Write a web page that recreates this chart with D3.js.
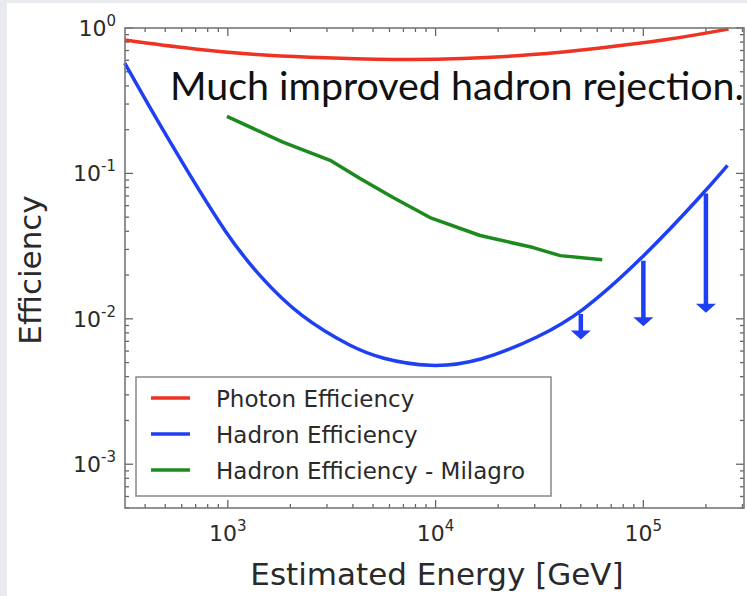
<!DOCTYPE html>
<html>
<head>
<meta charset="utf-8">
<script src="https://cdn.jsdelivr.net/npm/d3@7"></script>
<style>
  body { margin: 0; background: #fff; }
  svg { display: block; }
</style>
</head>
<body>
<svg id="chart" width="747" height="596"></svg>
<script>
// energies in GeV, efficiencies
var photonE   = [319, 733, 1426, 2223, 6745, 13130, 29500, 62000, 130600, 257000];
var photonEff = [0.826, 0.705, 0.651, 0.631, 0.601, 0.611, 0.651, 0.728, 0.826, 0.984];

var hadronE   = [319, 436, 634, 989, 1426, 2223, 4000, 5405, 9400, 16370, 31900, 49700, 96800, 194600, 254000];
var hadronEff = [0.574, 0.260, 0.1055, 0.0375, 0.0194, 0.0103, 0.0063, 0.00535, 0.0046, 0.00505, 0.00755, 0.0108, 0.0251, 0.0728, 0.1135];

var milagroE   = [990, 1841, 3107, 4330, 6240, 9400, 16370, 29500, 39800, 63400];
var milagroEff = [0.247, 0.164, 0.123, 0.0924, 0.0683, 0.0497, 0.0374, 0.0309, 0.0272, 0.0255];

// upper limit arrows
var limitE   = [5e4, 1e5, 2e5];
var limitTop = [0.0108, 0.0251, 0.0728];
var limitTip = [0.0072, 0.0089, 0.0110];

var xMajor = [1e3, 1e4, 1e5];
var xExp   = ["3", "4", "5"];
var yMajor = [1e-3, 1e-2, 1e-1, 1];
var yExp   = ["-3", "-2", "-1", "0"];

var legendLabels = ["Photon Efficiency", "Hadron Efficiency", "Hadron Efficiency - Milagro"];
var colours = ["#ee3322", "#1f3ff2", "#1c8a1c"];

var svg = d3.select("#chart");

// slide background
svg.append("rect").attr("width", 747).attr("height", 596).attr("fill", "#e9ebef");
svg.append("rect").attr("x", 7).attr("y", 3).attr("width", 740).attr("height", 593).attr("fill", "#fff");

// plot box (note: "top" is a reserved window prop, so use pTop)
var pLeft = 125, pRight = 744, pTop = 28, pBottom = 508;

var x = d3.scaleLog().domain([320, 3.05e5]).range([pLeft, pRight]);
var y = d3.scaleLog().domain([5e-4, 1]).range([pBottom, pTop]);

var line = d3.line()
  .x(function (d) { return x(d[0]); })
  .y(function (d) { return y(d[1]); });

var plot = svg.append("g");

// ticks, all four sides, pointing in
var isMajor = function (v) { return Math.abs(Math.log10(v) - Math.round(Math.log10(v))) < 1e-9; };
var tickCol = "#666";

x.ticks().forEach(function (v) {
  var len = isMajor(v) ? 8 : 4;
  var px = x(v);
  plot.append("line").attr("x1", px).attr("x2", px).attr("y1", pBottom).attr("y2", pBottom - len)
    .attr("stroke", tickCol).attr("stroke-width", 1.3);
  plot.append("line").attr("x1", px).attr("x2", px).attr("y1", pTop).attr("y2", pTop + len)
    .attr("stroke", tickCol).attr("stroke-width", 1.3);
});
y.ticks().forEach(function (v) {
  var len = isMajor(v) ? 8 : 4;
  var py = y(v);
  plot.append("line").attr("x1", pLeft).attr("x2", pLeft + len).attr("y1", py).attr("y2", py)
    .attr("stroke", tickCol).attr("stroke-width", 1.3);
  plot.append("line").attr("x1", pRight).attr("x2", pRight - len).attr("y1", py).attr("y2", py)
    .attr("stroke", tickCol).attr("stroke-width", 1.3);
});

// curves
var series = [
  d3.zip(photonE, photonEff),
  d3.zip(hadronE, hadronEff),
  d3.zip(milagroE, milagroEff)
];
plot.append("path").attr("d", line.curve(d3.curveBasis)(series[0]))
  .attr("fill", "none").attr("stroke", colours[0]).attr("stroke-width", 3.5);
plot.append("path").attr("d", line.curve(d3.curveBasis)(series[1]))
  .attr("fill", "none").attr("stroke", colours[1]).attr("stroke-width", 3.5);
plot.append("path").attr("d", line.curve(d3.curveLinear)(series[2]))
  .attr("fill", "none").attr("stroke", colours[2]).attr("stroke-width", 3.5)
  .attr("stroke-linejoin", "round");

// arrows
limitE.forEach(function (e, i) {
  var px = x(e), y0 = y(limitTop[i]), y1 = y(limitTip[i]);
  plot.append("line").attr("x1", px).attr("x2", px).attr("y1", y0).attr("y2", y1 - 6)
    .attr("stroke", colours[1]).attr("stroke-width", 4.5);
  plot.append("path")
    .attr("d", "M" + (px - 10) + "," + (y1 - 9) + "L" + (px + 10) + "," + (y1 - 9) + "L" + px + "," + y1 + "Z")
    .attr("fill", colours[1]);
});

// frame
plot.append("rect").attr("x", pLeft).attr("y", pTop).attr("width", pRight - pLeft).attr("height", pBottom - pTop)
  .attr("fill", "none").attr("stroke", "#777").attr("stroke-width", 1.6);

// tick labels
var labFont = "DejaVu Sans";
xMajor.forEach(function (v, i) {
  var t = svg.append("text").attr("x", x(v)).attr("y", 541)
    .attr("text-anchor", "middle").attr("font-family", labFont).attr("font-size", 22).attr("fill", "#2a2a2a");
  t.append("tspan").text("10");
  t.append("tspan").attr("dy", -10).attr("font-size", 15).text(xExp[i]);
});
yMajor.forEach(function (v, i) {
  var t = svg.append("text").attr("x", 116).attr("y", y(v) + 8)
    .attr("text-anchor", "end").attr("font-family", labFont).attr("font-size", 22).attr("fill", "#2a2a2a");
  t.append("tspan").text("10");
  t.append("tspan").attr("dy", -10).attr("font-size", 15).text(yExp[i]);
});

// axis titles
svg.append("text").attr("x", 437).attr("y", 585).attr("text-anchor", "middle")
  .attr("font-family", labFont).attr("font-size", 31).attr("fill", "#2a2a2a")
  .text("Estimated Energy [GeV]");
svg.append("text").attr("transform", "translate(41,270) rotate(-90)").attr("text-anchor", "middle")
  .attr("font-family", labFont).attr("font-size", 31).attr("fill", "#2a2a2a")
  .text("Efficiency");

// legend
var lg = svg.append("g");
lg.append("rect").attr("x", 136).attr("y", 377).attr("width", 415).attr("height", 119)
  .attr("fill", "#fff").attr("stroke", "#888").attr("stroke-width", 1.5);
legendLabels.forEach(function (l, i) {
  var yy = 398 + i * 36;
  lg.append("line").attr("x1", 151).attr("x2", 190).attr("y1", yy).attr("y2", yy)
    .attr("stroke", colours[i]).attr("stroke-width", 3.5);
  lg.append("text").attr("x", 216).attr("y", yy + 9)
    .attr("font-family", labFont).attr("font-size", 23).attr("fill", "#2a2a2a").text(l);
});

// annotation
var note = svg.append("text").attr("x", 170).attr("y", 100)
  .attr("font-family", "Lato").attr("font-size", 42).attr("fill", "#111")
  .text("Much improved hadron rejection.");
var w = note.node().getComputedTextLength();
note.attr("font-size", 42 * 574 / w);
</script>
</body>
</html>
